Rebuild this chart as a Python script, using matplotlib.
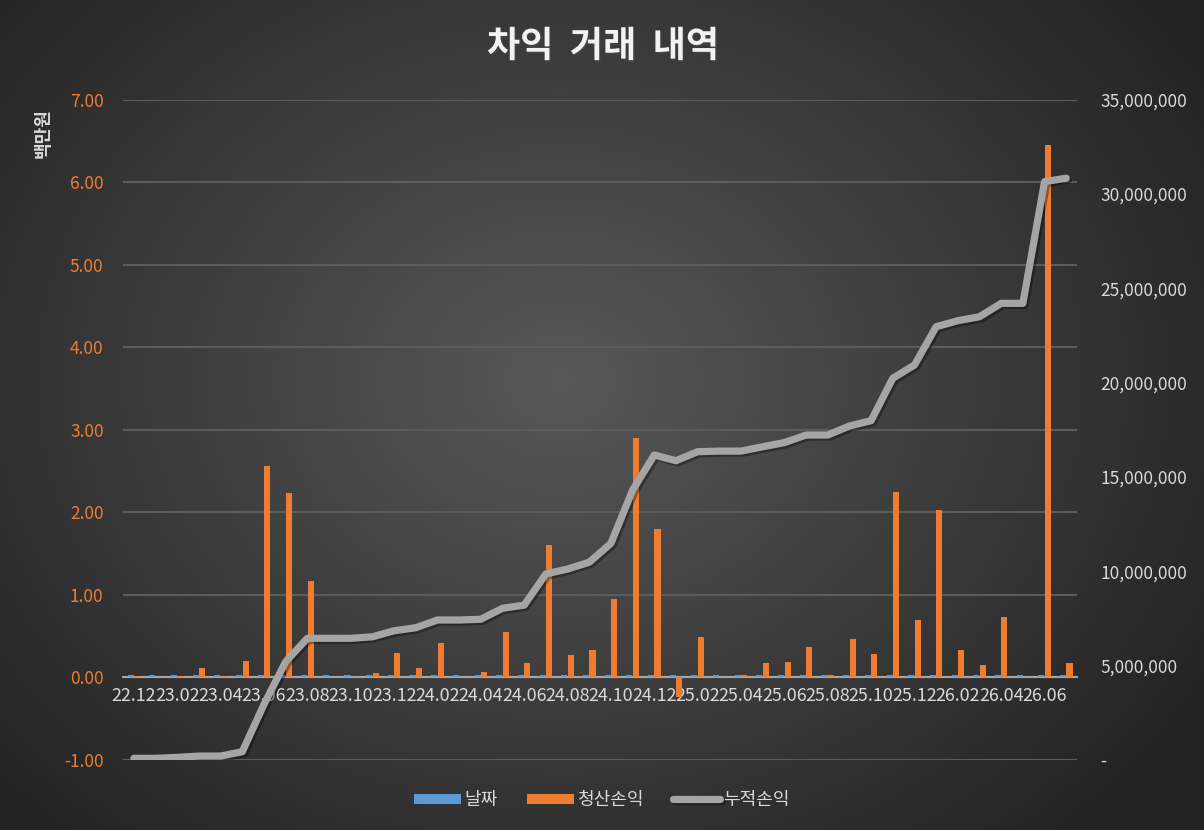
import matplotlib
matplotlib.use('Agg')
import matplotlib.pyplot as plt
import matplotlib.patheffects as pe
from matplotlib.ticker import FuncFormatter, MultipleLocator
import numpy as np

plt.rcParams['font.family'] = ['Noto Sans CJK KR', 'DejaVu Sans']

# 월 (22.12 ~ 26.07)
months = ['22.12', '23.01', '23.02', '23.03', '23.04', '23.05', '23.06', '23.07',
          '23.08', '23.09', '23.10', '23.11', '23.12', '24.01', '24.02', '24.03',
          '24.04', '24.05', '24.06', '24.07', '24.08', '24.09', '24.10', '24.11',
          '24.12', '25.01', '25.02', '25.03', '25.04', '25.05', '25.06', '25.07',
          '25.08', '25.09', '25.10', '25.11', '25.12', '26.01', '26.02', '26.03',
          '26.04', '26.05', '26.06', '26.07']

# 날짜 (거의 0에 붙어 있는 막대)
dates_series = [0.03] * len(months)

# 청산손익 (백만원)
pnl = [0.02, 0.00, 0.02, 0.11, 0.02, 0.20, 2.56, 2.24, 1.17, 0.00, 0.00, 0.06,
       0.30, 0.12, 0.42, 0.00, 0.07, 0.55, 0.18, 1.61, 0.27, 0.33, 0.95, 2.90,
       1.80, -0.24, 0.49, 0.01, 0.03, 0.18, 0.19, 0.37, 0.03, 0.46, 0.29, 2.25,
       0.70, 2.03, 0.33, 0.15, 0.73, 0.01, 6.45, 0.17]

# 누적손익 (원)
cum_pnl = [90000, 90000, 140000, 210000, 210000, 440000, 2950000, 5210000,
           6450000, 6450000, 6450000, 6530000, 6850000, 7010000, 7420000, 7420000,
           7460000, 8040000, 8210000, 9860000, 10120000, 10480000, 11480000, 14300000,
           16160000, 15860000, 16340000, 16370000, 16370000, 16600000, 16820000, 17220000,
           17220000, 17700000, 17980000, 20230000, 20930000, 22960000, 23280000, 23490000,
           24200000, 24200000, 30650000, 30830000]

fig = plt.figure(figsize=(12.04, 8.30), dpi=100)

# 배경 (방사형 그라데이션)
bg = fig.add_axes([0, 0, 1, 1], zorder=-10)
h, w = 830, 1204
yy, xx = np.mgrid[0:h, 0:w]
r = np.sqrt(((xx - 560) / 760.0) ** 2 + ((yy - 380) / 620.0) ** 2)
r = np.clip(r, 0, 1)
shade = 0.345 - (0.345 - 0.135) * r
bg.imshow(np.dstack([shade, shade, shade]), aspect='auto', extent=[0, 1, 0, 1])
bg.set_axis_off()

ax = fig.add_axes([0.1022, 0.0843, 0.7924, 0.7958])
ax.patch.set_alpha(0)
x = np.arange(len(months))
bw = 0.28
ax.bar(x - 0.15, dates_series, width=bw, color='#5B9BD5', label='날짜', zorder=3)
ax.bar(x + 0.15, pnl, width=bw, color='#EE7D31', label='청산손익', zorder=3)

ax.set_xlim(-0.5, len(months) - 0.5)
ax.set_ylim(-1, 7)
ax.yaxis.set_major_locator(MultipleLocator(1))
ax.yaxis.set_major_formatter(FuncFormatter(lambda v, p: f'{v:.2f}'))
ax.grid(axis='y', color='#5c5c5c', linewidth=1.5, zorder=0)
ax.set_axisbelow(True)
for s in ['top', 'right', 'left']:
    ax.spines[s].set_visible(False)
ax.spines['bottom'].set_position(('data', 0))
ax.spines['bottom'].set_color('#a6a6a6')
ax.spines['bottom'].set_linewidth(1.5)
ax.spines['bottom'].set_zorder(2.5)
ax.set_xticks(x[::2])
ax.set_xticklabels(months[::2])
ax.tick_params(axis='x', length=0, pad=7, labelsize=12.9, colors='#d9d9d9')
ax.tick_params(axis='y', length=0, pad=14, labelsize=12.5, colors='#ED7D31')

ax2 = ax.twinx()
ax2.set_ylim(0, 35000000)
ax2.yaxis.set_major_locator(MultipleLocator(5000000))
ax2.yaxis.set_major_formatter(FuncFormatter(lambda v, p: '-' if v == 0 else f'{v:,.0f}'))
ax2.plot(x, cum_pnl, color='#A5A5A5', linewidth=5.2, solid_capstyle='round',
         label='누적손익', zorder=5,
         path_effects=[pe.SimpleLineShadow(offset=(1.5, -1.5), alpha=0.35), pe.Normal()])
for s in ax2.spines.values():
    s.set_visible(False)
ax2.tick_params(axis='y', length=0, pad=17, labelsize=12.5, colors='#d9d9d9')

fig.text(0.501, 0.944, '차익  거래  내역', ha='center', va='center', fontsize=26,
         fontweight='bold', color='#f2f2f2',
         path_effects=[pe.withSimplePatchShadow(offset=(1, -1.5), alpha=0.5)])
fig.text(0.036, 0.84, '백만원', ha='center', va='center', rotation=90,
         fontsize=13, fontweight='bold', color='#d9d9d9')

h1, l1 = ax.get_legend_handles_labels()
h2, l2 = ax2.get_legend_handles_labels()
leg = fig.legend(h1 + h2, l1 + l2, loc='center', bbox_to_anchor=(0.5, 0.036), ncol=3,
                 frameon=False, fontsize=13, labelcolor='#d9d9d9',
                 handlelength=2.6, handleheight=0.5, columnspacing=1.6, handletextpad=0.2)

fig.savefig('out.png', dpi=100)
